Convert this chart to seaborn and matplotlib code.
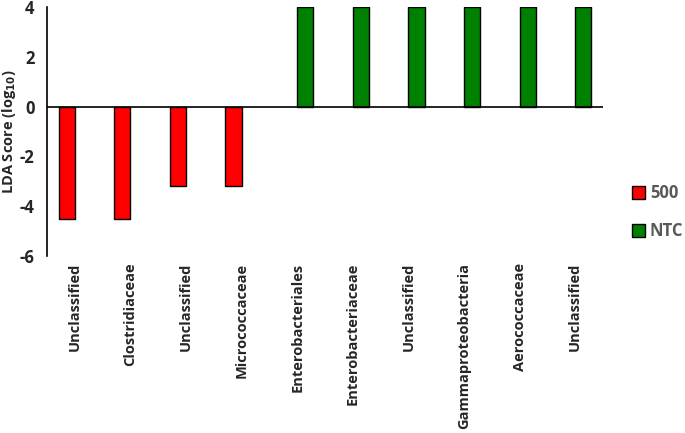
import pandas as pd
import matplotlib.pyplot as plt
import seaborn as sns

# data
taxa = ["Unclassified", "Clostridiaceae", "Unclassified", "Micrococcaceae",
        "Enterobacteriales", "Enterobacteriaceae", "Unclassified",
        "Gammaproteobacteria", "Aerococcaceae", "Unclassified"]
groups = ["500", "500", "500", "500", "NTC", "NTC", "NTC", "NTC", "NTC", "NTC"]
lda = [-4.5, -4.5, -3.2, -3.2, 4.0, 4.0, 4.0, 4.0, 4.0, 4.0]
colors = {"500": "#ff0000", "NTC": "#008000"}

sns.set_theme(style="white")
plt.rcParams["font.family"] = ["Open Sans", "DejaVu Sans"]

df = pd.DataFrame({"pos": [str(i) for i in range(len(taxa))],
                   "Group": groups, "LDA": lda})

fig = plt.figure(figsize=(6.85, 4.33), dpi=100)
ax = fig.add_axes([0.0686, 0.409, 0.8117, 0.575])

sns.barplot(data=df, x="pos", y="LDA", hue="Group", hue_order=["500", "NTC"],
            palette=colors, saturation=1, width=0.58, dodge=True,
            edgecolor="black", linewidth=1, ax=ax)

ax.axhline(0, color="black", lw=1.2, zorder=5)
ax.set_ylim(-6, 4)
ax.set_yticks([-6, -4, -2, 0, 2, 4])
ax.set_yticklabels(["-6", "-4", "-2", "0", "2", "4"], fontsize=12, fontweight="bold")
ax.set_xlim(-0.5, len(taxa) - 0.5)
ax.set_xticks(range(len(taxa)))
ax.set_xticklabels(taxa, rotation=90, fontsize=10.5, fontweight="bold", va="top")
ax.tick_params(axis="both", length=0)
ax.tick_params(axis="x", pad=5)
ax.tick_params(axis="y", pad=9)
ax.set_xlabel("")
ax.set_ylabel(r"LDA Score (log$_{\mathbf{10}}$)", fontsize=10.5, fontweight="bold")
ax.yaxis.set_label_coords(-0.052, 0.5)

for s in ["top", "right", "bottom"]:
    ax.spines[s].set_visible(False)
ax.spines["left"].set_color("black")
ax.spines["left"].set_linewidth(1.2)

ax.legend(title=None, frameon=False, loc="center left",
          bbox_to_anchor=(0.905, 0.51), bbox_transform=fig.transFigure,
          handlelength=0.8, handleheight=0.8, handletextpad=0.3,
          labelspacing=1.2, borderpad=0.2, prop={"weight": "bold", "size": 12})
for t in ax.get_legend().get_texts():
    t.set_color("#595959")

fig.savefig("out.png", dpi=100)
